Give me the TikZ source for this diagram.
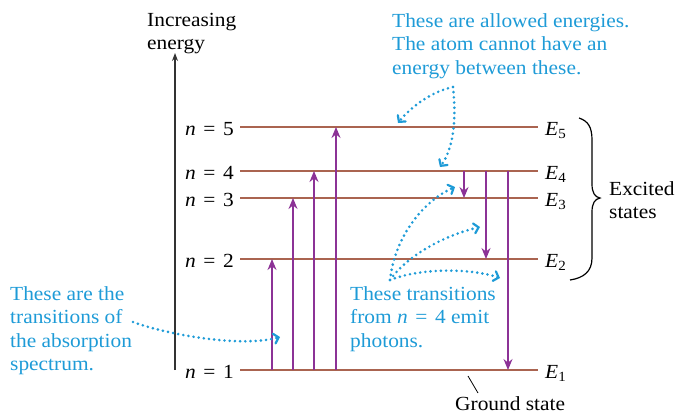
\documentclass[tikz,border=0pt]{standalone}
\usepackage{fontspec}
\setmainfont[FakeStretch=1.07]{Liberation Serif}
\usetikzlibrary{arrows.meta}
\definecolor{lvl}{RGB}{170,100,80}
\definecolor{trn}{RGB}{140,50,150}
\definecolor{note}{RGB}{30,155,215}
\newcommand{\eqsp}{\hspace{0.38em}=\hspace{0.38em}}
\begin{document}
\begin{tikzpicture}[x=1pt,y=-1pt, font=\fontsize{20}{23.5}\selectfont,
  level/.style={draw=lvl, line width=2.6pt},
  up/.style={draw=trn, line width=1.4pt, -{Stealth[length=11pt,width=9pt]}},
  axisline/.style={draw=black!80, line width=1.2pt, -{Stealth[length=8pt,width=6pt]}},
  dots/.style={draw=note, line width=2.9pt, line cap=round, dash pattern=on 0pt off 5.2pt, -{Straight Barb[length=4.5pt,width=10pt,line width=2.2pt,line cap=round]}},
  lbl/.style={anchor=base east, inner sep=0pt},
  elbl/.style={anchor=base west, inner sep=0pt},
  plain/.style={anchor=base west, align=left, inner sep=0pt},
  txt/.style={plain, text=note}]
\useasboundingbox (0,0) rectangle (676,413);
% levels
\foreach \n/\y in {1/370,2/259,3/198,4/171,5/127} {
  \coordinate (L\n) at (240,\y);
  \coordinate (R\n) at (538,\y);
  \draw[level] (L\n) -- (R\n);
  \node[lbl] (nl\n) at ([shift={(-6,8)}]L\n) {\textit{n}\eqsp\n};
  \node[elbl] (E\n) at ([shift={(7,8)}]R\n) {\textit{E}\textsubscript{\n}};
}
% axis
\coordinate (ax0) at (175,370);
\coordinate (ax1) at (175,53);
\draw[axisline] (ax0) -- (ax1);
% multi-line nodes: base anchor = baseline of last line
\node[plain] (inc) at (147,49.5) {Increasing\\energy};
% absorption
\foreach \n/\x in {2/272,3/293,4/314,5/336} {
  \coordinate (a\n) at (\x,0);
  \draw[up] (a\n |- L1) -- (a\n |- L\n);
}
% emission
\foreach \n/\x in {3/464,2/486,1/508} {
  \coordinate (e\n) at (\x,0);
  \draw[up] (e\n |- L4) -- (e\n |- L\n);
}
% brace
\coordinate (b0) at (579,118);
\coordinate (b1) at (600,198);
\coordinate (b2) at (570,280);
\draw[line width=1.2pt] (b0) .. controls (588,121) and (592,127) .. (592,140) -- (592,184)
  .. controls (592,193) and (595,197) .. (b1)
  .. controls (595,199) and (592,203) .. (592,212) -- (592,258)
  .. controls (592,272) and (583,278) .. (b2);
\node[plain] (exc) at (609,218.5) {Excited\\states};
% ground state
\node[plain] (gs) at (455,410) {Ground state};
\coordinate (g0) at (468,376);
\coordinate (g1) at (478,393);
\draw[line width=0.8pt] (g0) -- (g1);
% notes
\node[txt] (allowed) at (392,74) {These are allowed energies.\\The atom cannot have an\\energy between these.};
\node[txt] (emit) at (350,347) {These transitions\\from \textit{n}\eqsp 4 emit\\photons.};
\node[txt] (absorb) at (10,370.5) {These are the\\transitions of\\the absorption\\spectrum.};
% dotted arrows
\coordinate (p0) at (453,87);
\coordinate (p1) at (398,123);
\coordinate (p2) at (440,167);
\draw[dots] (p0) .. controls (430,92) and (410,108) .. (p1);
\draw[dots] (p0) .. controls (457,125) and (452,150) .. (p2);
\coordinate (q0) at (390,280);
\coordinate (q1) at (455,187);
\coordinate (q2) at (480,227);
\coordinate (q3) at (500,278);
\draw[dots] (q0) .. controls (395,235) and (425,200) .. (q1);
\draw[dots] (q0) .. controls (410,252) and (450,234) .. (q2);
\draw[dots] (q0) .. controls (420,268) and (470,268) .. (q3);
\coordinate (c0) at (133,322);
\coordinate (c1) at (280,337);
\draw[dots] (c0) .. controls (165,334) and (240,348) .. (c1);
\end{tikzpicture}
\end{document}
